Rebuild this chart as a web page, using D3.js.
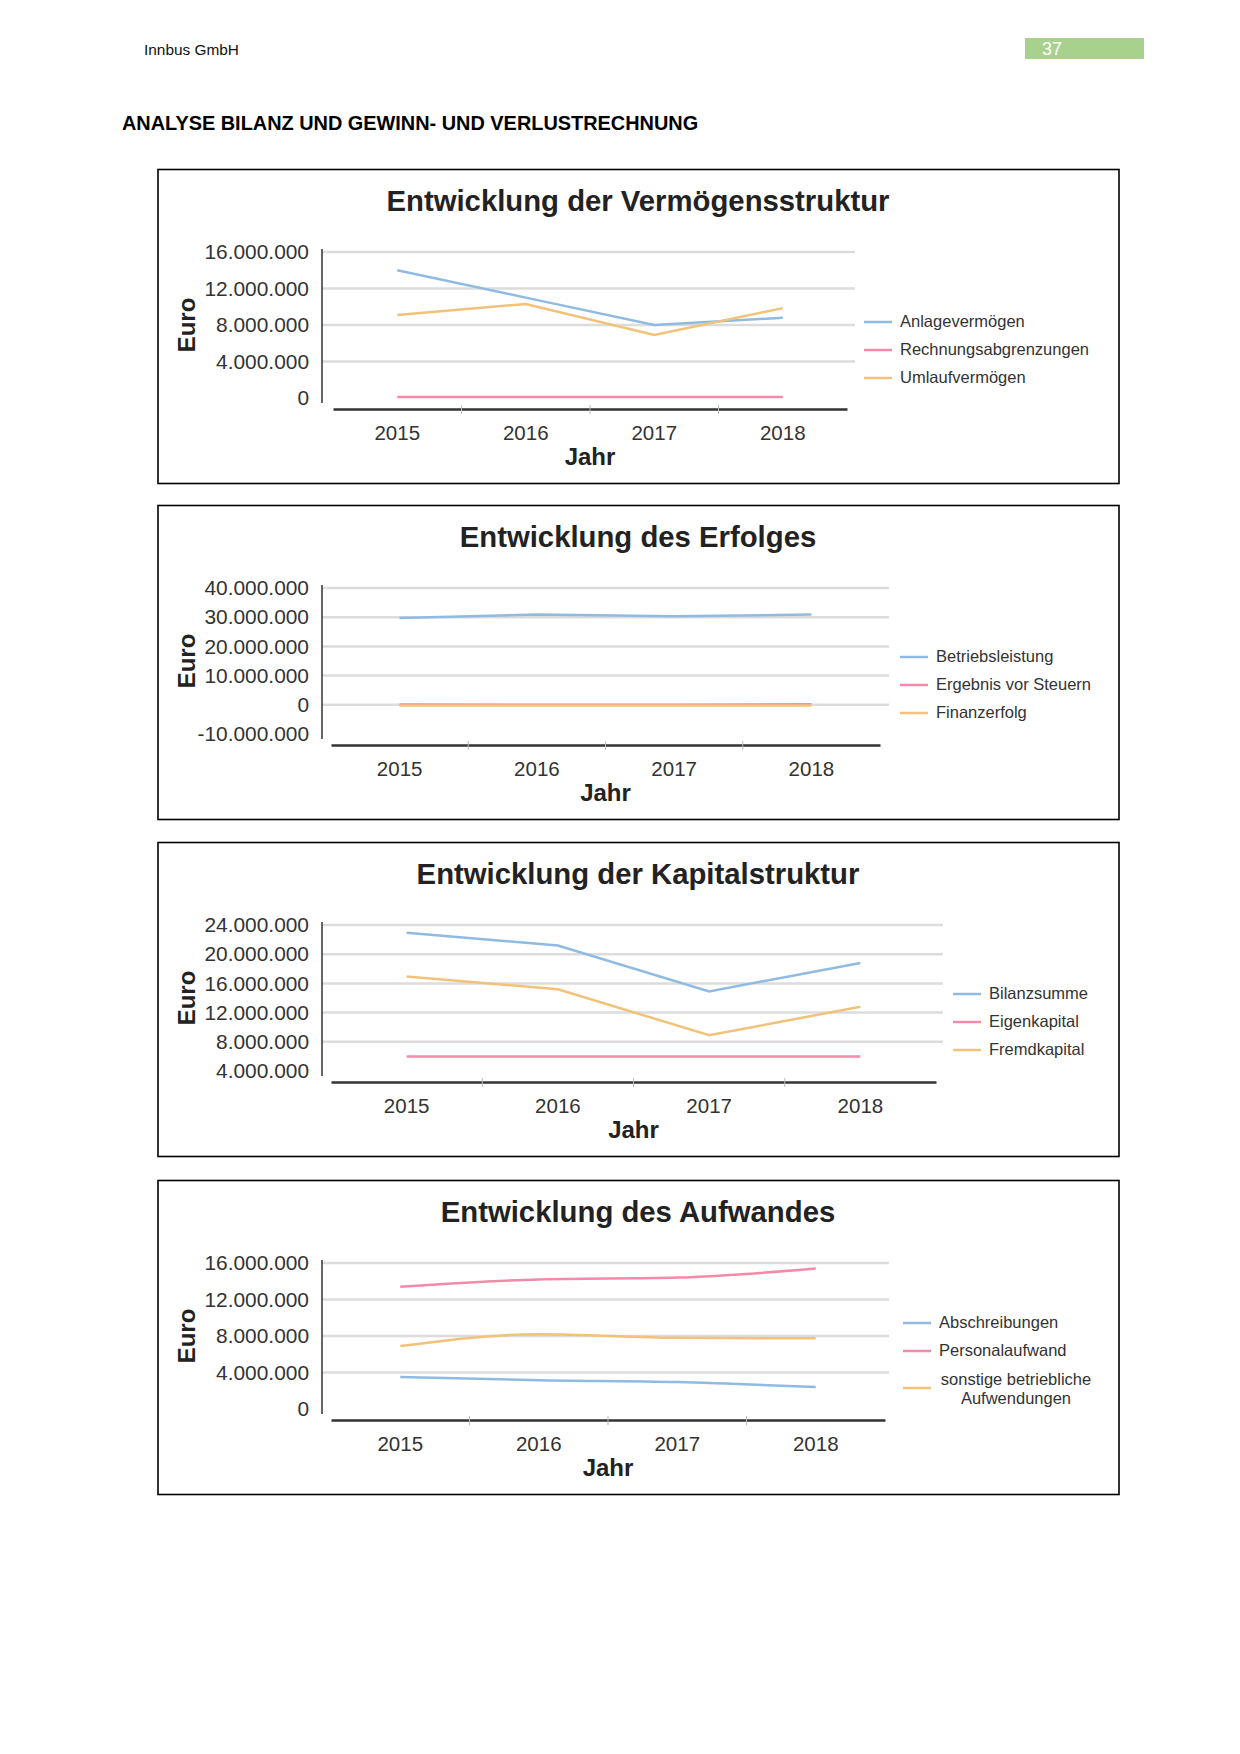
<!DOCTYPE html>
<html><head><meta charset="utf-8">
<script src="https://cdn.jsdelivr.net/npm/d3@7"></script>
<style>
html,body{margin:0;padding:0;background:#fff;}
svg{display:block;font-family:"Liberation Sans",Arial,sans-serif;}
</style></head>
<body>
<svg id="page" width="1240" height="1754"></svg>
<script>
// ---------- data ----------
const years = ["2015", "2016", "2017", "2018"];

const titles = [
  "Entwicklung der Vermögensstruktur",
  "Entwicklung des Erfolges",
  "Entwicklung der Kapitalstruktur",
  "Entwicklung des Aufwandes"
];

// Chart 1
const names1 = ["Anlagevermögen", "Rechnungsabgrenzungen", "Umlaufvermögen"];
const anlagevermoegen = [14000000, 11000000, 8000000, 8800000];
const rechnungsabgrenzungen = [100000, 100000, 100000, 100000];
const umlaufvermoegen = [9100000, 10300000, 6900000, 9850000];
const ticks1 = [0, 4000000, 8000000, 12000000, 16000000];

// Chart 2
const names2 = ["Betriebsleistung", "Ergebnis vor Steuern", "Finanzerfolg"];
const betriebsleistung = [29700000, 30900000, 30300000, 30900000];
const ergebnisVorSteuern = [100000, 0, 0, 200000];
const finanzerfolg = [-200000, -200000, -200000, -200000];
const ticks2 = [-10000000, 0, 10000000, 20000000, 30000000, 40000000];

// Chart 3
const names3 = ["Bilanzsumme", "Eigenkapital", "Fremdkapital"];
const bilanzsumme = [22950000, 21200000, 14900000, 18800000];
const eigenkapital = [6000000, 6000000, 6000000, 6000000];
const fremdkapital = [16950000, 15200000, 8900000, 12800000];
const ticks3 = [4000000, 8000000, 12000000, 16000000, 20000000, 24000000];

// Chart 4
const names4 = ["Abschreibungen", "Personalaufwand", "sonstige betriebliche Aufwendungen"];
const abschreibungen = [3500000, 3150000, 2950000, 2400000];
const personalaufwand = [13400000, 14200000, 14400000, 15400000];
const sonstigeAufwendungen = [6900000, 8200000, 7800000, 7750000];
const ticks4 = [0, 4000000, 8000000, 12000000, 16000000];

// ---------- styles ----------
const BLUE = "#8fbbe3", PINK = "#f28aa9", ORANGE = "#f2c27a";
const fmt = v => d3.format(",")(v).replace(/,/g, ".").replace("−", "-");

const svg = d3.select("#page");

// header
svg.append("text").attr("x", 144).attr("y", 55).attr("font-size", 15.4).attr("fill", "#111").text("Innbus GmbH");
svg.append("rect").attr("x", 1025).attr("y", 38).attr("width", 119).attr("height", 21).attr("fill", "#a9d18e");
svg.append("text").attr("x", 1042).attr("y", 55).attr("font-size", 18).attr("fill", "#fff").text("37");
svg.append("text").attr("x", 122).attr("y", 130).attr("font-size", 19.9).attr("font-weight", "bold").attr("fill", "#000")
  .text("ANALYSE BILANZ UND GEWINN- UND VERLUSTRECHNUNG");

const charts = [
  {top: 169, title: titles[0], names: names1, series: [anlagevermoegen, rechnungsabgrenzungen, umlaufvermoegen],
   colors: [BLUE, PINK, ORANGE], ticks: ticks1, xr: [333, 847], gridEnd: 855, legX: 864, legY: [153, 181, 209]},
  {top: 505, title: titles[1], names: names2, series: [betriebsleistung, ergebnisVorSteuern, finanzerfolg],
   colors: [BLUE, PINK, ORANGE], ticks: ticks2, xr: [331, 880], gridEnd: 889, legX: 900, legY: [152, 180, 208]},
  {top: 842, title: titles[2], names: names3, series: [bilanzsumme, eigenkapital, fremdkapital],
   colors: [BLUE, PINK, ORANGE], ticks: ticks3, xr: [331, 936], gridEnd: 943, legX: 953, legY: [152, 180, 208]},
  {top: 1180, title: titles[3], names: names4, series: [abschreibungen, personalaufwand, sonstigeAufwendungen],
   colors: [BLUE, PINK, ORANGE], ticks: ticks4, xr: [331, 885], gridEnd: 889, legX: 903, legY: [143, 171, 208], curve: true}
];

charts.forEach(c => {
  const g = svg.append("g").attr("transform", `translate(0,${c.top})`);
  // frame
  g.append("rect").attr("x", 158).attr("y", 0.5).attr("width", 961).attr("height", 314)
    .attr("fill", "#fff").attr("stroke", "#000").attr("stroke-width", 1.6);
  // title
  g.append("text").attr("x", 638).attr("y", 42).attr("text-anchor", "middle")
    .attr("font-size", 29.3).attr("font-weight", "bold").attr("fill", "#222").text(c.title);

  const y = d3.scaleLinear().domain([c.ticks[0], c.ticks[c.ticks.length - 1]]).range([229, 83]);
  const x = d3.scaleBand().domain(years).range(c.xr).padding(0);
  const xc = d => x(d) + x.bandwidth() / 2;

  // grid
  g.append("g").selectAll("line").data(c.ticks.slice(1)).join("line")
    .attr("x1", 322).attr("x2", c.gridEnd).attr("y1", d => y(d)).attr("y2", d => y(d))
    .attr("stroke", "#dcdcdc").attr("stroke-width", 2.5);

  // y axis
  const yAxis = d3.axisLeft(y).tickValues(c.ticks).tickFormat(fmt).tickSize(0).tickPadding(13);
  const ya = g.append("g").attr("transform", "translate(322,0)").call(yAxis);
  ya.select(".domain").remove();
  ya.selectAll("text").attr("font-size", 20.9).attr("fill", "#333").attr("font-family", "Liberation Sans, Arial, sans-serif");
  g.append("line").attr("x1", 322).attr("x2", 322).attr("y1", 80).attr("y2", 234)
    .attr("stroke", "#333").attr("stroke-width", 1.5);

  // x axis
  const xAxis = d3.axisBottom(x).tickSize(0).tickPadding(16);
  const xa = g.append("g").attr("transform", "translate(0,240)").call(xAxis);
  xa.select(".domain").attr("stroke", "#333").attr("stroke-width", 2.5);
  xa.selectAll("text").attr("font-size", 20.5).attr("fill", "#333").attr("font-family", "Liberation Sans, Arial, sans-serif");
  g.append("g").selectAll("line").data(years.slice(1)).join("line")
    .attr("x1", d => x(d)).attr("x2", d => x(d)).attr("y1", 236).attr("y2", 245)
    .attr("stroke", "#bbb").attr("stroke-width", 1);

  // axis titles
  g.append("text").attr("x", (c.xr[0] + c.xr[1]) / 2).attr("y", 296).attr("text-anchor", "middle")
    .attr("font-size", 24).attr("font-weight", "bold").attr("fill", "#222").text("Jahr");
  g.append("text").attr("transform", `translate(195,${(83 + 229) / 2}) rotate(-90)`).attr("text-anchor", "middle")
    .attr("font-size", 24).attr("font-weight", "bold").attr("fill", "#222").text("Euro");

  // lines
  const line = d3.line().x((d, i) => xc(years[i])).y(d => y(d))
    .curve(c.curve ? d3.curveMonotoneX : d3.curveLinear);
  c.series.forEach((s, i) => {
    g.append("path").datum(s).attr("d", line).attr("fill", "none")
      .attr("stroke", c.colors[i]).attr("stroke-width", 2.5);
  });

  // legend
  c.names.forEach((n, i) => {
    const ly = c.legY[i];
    g.append("line").attr("x1", c.legX).attr("x2", c.legX + 28).attr("y1", ly).attr("y2", ly)
      .attr("stroke", c.colors[i]).attr("stroke-width", 2.5);
    if (n === "sonstige betriebliche Aufwendungen") {
      const t = g.append("text").attr("font-size", 16.5).attr("fill", "#333").attr("text-anchor", "middle");
      t.append("tspan").attr("x", c.legX + 113).attr("y", ly - 3).text("sonstige betriebliche");
      t.append("tspan").attr("x", c.legX + 113).attr("y", ly + 16).text("Aufwendungen");
    } else {
      g.append("text").attr("x", c.legX + 36).attr("y", ly + 5).attr("font-size", 16.5).attr("fill", "#333").text(n);
    }
  });
});
</script>
</body></html>
